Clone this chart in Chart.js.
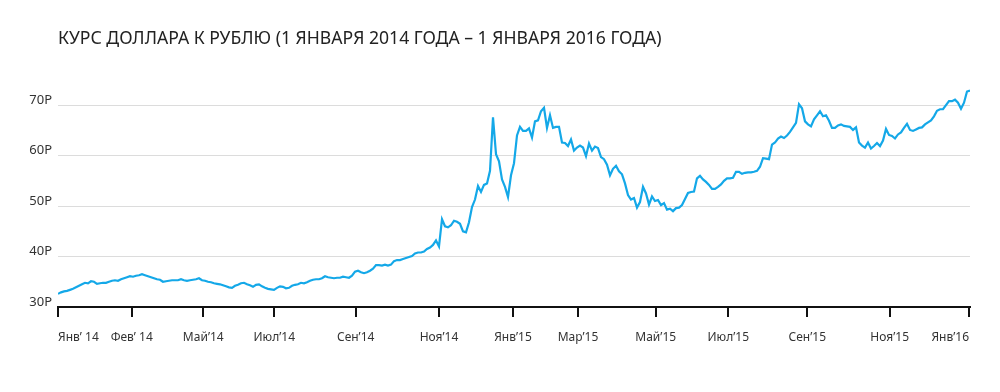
<!DOCTYPE html>
<html>
<head>
<meta charset="utf-8">
<script src="https://cdn.jsdelivr.net/npm/chart.js@4.4.1/dist/chart.umd.min.js"></script>
<style>
  html, body { margin: 0; padding: 0; background: #ffffff; }
  #wrap { width: 1000px; height: 392px; position: relative; }
</style>
</head>
<body>
<div id="wrap"><canvas id="c" width="1000" height="392"></canvas></div>
<script>
// Title
const chartTitle = 'КУРС ДОЛЛАРА К РУБЛЮ (1 ЯНВАРЯ 2014 ГОДА – 1 ЯНВАРЯ 2016 ГОДА)';

// USD/RUB rate, sampled evenly from 1 Jan 2014 to 1 Jan 2016 (index = sample number)
const rateValues = [
  32.6, 32.9, 33.1, 33.2, 33.4, 33.6, 33.9, 34.2, 34.5, 34.8,
  34.7, 35.1, 35.0, 34.6, 34.7, 34.8, 34.8, 35.0, 35.2, 35.3,
  35.2, 35.5, 35.7, 35.9, 36.1, 36.0, 36.2, 36.3, 36.5, 36.3,
  36.1, 35.9, 35.7, 35.5, 35.4, 35.0, 35.1, 35.2, 35.3, 35.3,
  35.3, 35.5, 35.3, 35.2, 35.3, 35.4, 35.5, 35.7, 35.3, 35.2,
  35.0, 34.9, 34.7, 34.6, 34.5, 34.3, 34.1, 33.9, 33.8, 34.2,
  34.4, 34.7, 34.8, 34.5, 34.3, 34.0, 34.4, 34.5, 34.1, 33.8,
  33.6, 33.5, 33.4, 33.8, 34.1, 34.0, 33.7, 33.8, 34.2, 34.4,
  34.5, 34.8, 34.7, 34.9, 35.2, 35.4, 35.5, 35.5, 35.7, 36.1,
  35.9, 35.8, 35.7, 35.8, 35.8, 36.0, 35.9, 35.8, 36.2, 37.0,
  37.2, 36.9, 36.7, 36.9, 37.2, 37.6, 38.3, 38.3, 38.2, 38.4,
  38.2, 38.4, 39.1, 39.3, 39.3, 39.5, 39.7, 39.9, 40.1, 40.6,
  40.8, 40.8, 41.0, 41.5, 41.8, 42.3, 43.2, 42.0, 47.4, 46.0,
  45.8, 46.2, 47.1, 46.9, 46.5, 45.0, 44.8, 46.8, 49.8, 51.3,
  54.0, 52.8, 54.2, 54.5, 57.0, 67.6, 60.3, 58.9, 55.3, 53.8,
  51.8, 56.1, 58.5, 64.0, 65.7, 64.9, 64.9, 65.4, 63.6, 66.8,
  67.0, 68.8, 69.5, 65.5, 68.0, 65.5, 65.7, 65.7, 62.6, 62.5,
  61.9, 63.2, 61.0, 61.6, 62.0, 61.6, 59.9, 62.4, 61.0, 61.8,
  61.5, 59.7, 59.3, 58.2, 56.1, 57.4, 58.0, 56.9, 56.3, 54.5,
  52.2, 51.3, 51.6, 49.7, 50.8, 53.8, 52.5, 50.3, 51.9, 51.0,
  51.2, 50.2, 50.6, 49.3, 49.5, 49.0, 49.6, 49.7, 50.2, 51.4,
  52.6, 52.8, 52.9, 55.5, 56.0, 55.3, 54.8, 54.2, 53.4, 53.4,
  53.8, 54.3, 55.0, 55.5, 55.5, 55.6, 56.8, 56.8, 56.4, 56.6,
  56.7, 56.7, 56.8, 57.0, 57.8, 59.5, 59.4, 59.3, 62.2, 62.6,
  63.4, 63.8, 63.5, 64.0, 64.7, 65.6, 66.5, 70.2, 69.4, 66.8,
  66.2, 65.8, 67.2, 68.0, 68.8, 67.8, 68.0, 66.9, 65.5, 65.5,
  66.0, 66.2, 65.9, 65.8, 65.7, 65.1, 65.6, 62.6, 62.0, 61.6,
  62.6, 61.4, 61.9, 62.5, 61.9, 63.0, 65.3, 64.1, 63.9, 63.4,
  64.2, 64.6, 65.5, 66.3, 65.1, 64.9, 65.2, 65.5, 65.6, 66.2,
  66.6, 67.0, 67.8, 68.9, 69.2, 69.2, 70.0, 70.8, 70.8, 71.1,
  70.5, 69.3, 70.5, 72.7, 72.9
];

// X tick positions (sample index) and their labels
const xTickPositions = [0, 24.57, 48.43, 72.1, 99.23, 127, 151.67, 173.33, 199.23, 223.43, 249.77, 277.23, 303.67];
const xTickLabels = ['Янв’ 14', 'Фев’ 14', 'Май’14', 'Июл’14', 'Сен’14', 'Ноя’14', 'Янв’15', 'Мар’15', 'Май’15', 'Июл’15', 'Сен’15', 'Ноя’15', 'Янв’16'];

// Y ticks
const yTickValues = [30, 40, 50, 60, 70];
const yTickLabels = ['30Р', '40Р', '50Р', '60Р', '70Р'];

const FONT = '"Noto Sans", "Open Sans", sans-serif';

new Chart(document.getElementById('c'), {
  type: 'line',
  data: {
    datasets: [{
      data: rateValues.map((v, i) => ({ x: i, y: v })),
      borderColor: '#14a8e8',
      borderWidth: 2.2,
      pointRadius: 0,
      pointHoverRadius: 0,
      tension: 0,
      fill: false
    }]
  },
  options: {
    responsive: false,
    animation: false,
    events: [],
    layout: { padding: { left: 0, right: 30, top: 0, bottom: 0 } },
    plugins: {
      legend: { display: false },
      tooltip: { enabled: false },
      title: {
        display: true,
        text: chartTitle,
        align: 'start',
        fullSize: false,
        color: '#222222',
        font: { family: FONT, size: 17.6, weight: '400' },
        padding: { top: 28, bottom: 35.9 }
      }
    },
    scales: {
      x: {
        type: 'linear',
        min: 0,
        max: rateValues.length - 1,
        afterBuildTicks: (axis) => { axis.ticks = xTickPositions.map(v => ({ value: v })); },
        afterFit: (axis) => { axis.height = 85; },
        ticks: {
          autoSkip: false,
          maxRotation: 0,
          align: 'inner',
          padding: 13,
          color: '#333333',
          font: { family: FONT, size: 12 },
          callback: (value, index) => xTickLabels[index]
        },
        grid: {
          drawOnChartArea: false,
          drawTicks: true,
          tickLength: 10,
          color: '#111111',
          lineWidth: 2
        },
        border: { display: true, color: '#111111', width: 2 }
      },
      y: {
        type: 'linear',
        min: 30,
        max: 74,
        afterBuildTicks: (axis) => { axis.ticks = yTickValues.map(v => ({ value: v })); },
        afterFit: (axis) => { axis.width = 58; },
        ticks: {
          padding: 6,
          labelOffset: -5,
          color: '#333333',
          font: { family: FONT, size: 13 },
          callback: (value, index) => yTickLabels[index]
        },
        grid: {
          drawTicks: false,
          color: '#dcdcdc',
          lineWidth: 1
        },
        border: { display: false }
      }
    }
  }
});
</script>
</body>
</html>
